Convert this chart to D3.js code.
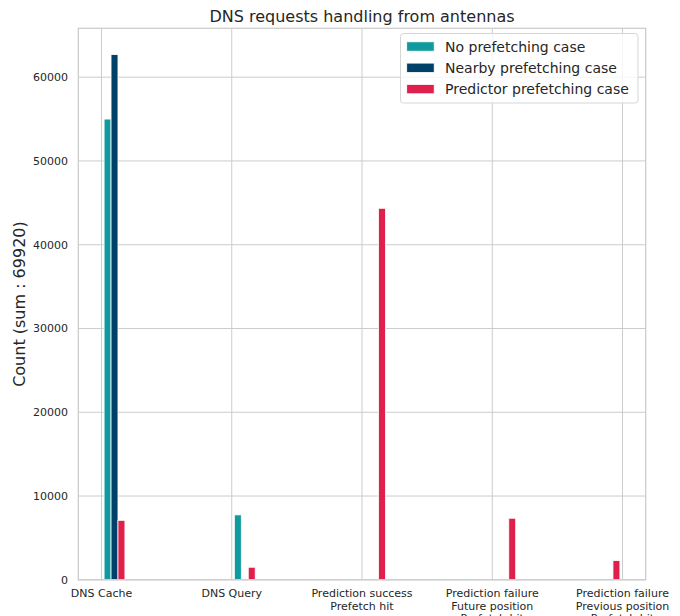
<!DOCTYPE html>
<html>
<head>
<meta charset="utf-8">
<script src="https://cdn.jsdelivr.net/npm/d3@7"></script>
<style>
  html, body { margin: 0; padding: 0; background: #fff; }
  svg text { font-family: "DejaVu Sans", sans-serif; fill: #262626; }
</style>
</head>
<body>
<svg id="chart" width="680" height="616"></svg>
<script>
// ---- data ----
const categories = [
  "DNS Cache",
  "DNS Query",
  "Prediction success\nPrefetch hit",
  "Prediction failure\nFuture position\nPrefetch hit",
  "Prediction failure\nPrevious position\nPrefetch hit"
];
const seriesNames = ["No prefetching case", "Nearby prefetching case", "Predictor prefetching case"];
const noPrefetching = [55000, 7750, 0, 0, 0];
const nearbyPrefetching = [62700, 0, 0, 0, 0];
const predictorPrefetching = [7100, 1500, 44350, 7350, 2300];
const yTicks = [0, 10000, 20000, 30000, 40000, 50000, 60000];
const title = "DNS requests handling from antennas";
const yLabel = "Count (sum : 69920)";

// ---- config ----
const colors = ["#0e9a9e", "#00416a", "#e0204c"];
const nBins = 20;
const margin = { left: 78.3, right: 680 - 645.7, top: 28.3, bottom: 616 - 579.8 };
const W = 680, H = 616;

const seriesValues = [noPrefetching, nearbyPrefetching, predictorPrefetching];
const svg = d3.select("#chart");

// histogram-like bar layout (matplotlib hist with 3 datasets)
const idxMin = 0, idxMax = categories.length - 1;
const span = idxMax - idxMin;
const binW = span / nBins;
const dr = 0.8;
const nx = seriesValues.length;
const barW = dr * binW / nx;
const boffset0 = -0.5 * dr * binW * (1 - 1 / nx) + 0.5 * binW;

const bars = [];
seriesValues.forEach((vals, k) => {
  vals.forEach((v, i) => {
    const b = Math.min(Math.floor((i - idxMin) * nBins / span), nBins - 1);
    const binStart = idxMin + b * binW;
    const center = binStart + boffset0 + k * barW;
    bars.push({ k, i, v, center });
  });
});

const dataMin = idxMin + boffset0 - barW / 2;
const dataMax = idxMax - binW + boffset0 + (nx - 1) * barW + barW / 2;
const pad = 0.05 * (dataMax - dataMin);

const x = d3.scaleLinear()
  .domain([dataMin - pad, dataMax + pad])
  .range([margin.left, W - margin.right]);

const yMax = d3.max(seriesValues.flat()) * 1.05;
const y = d3.scaleLinear()
  .domain([0, yMax])
  .range([H - margin.bottom, margin.top]);

// grid
const grid = svg.append("g");
grid.selectAll(".gy").data(yTicks).join("line")
  .attr("x1", margin.left).attr("x2", W - margin.right)
  .attr("y1", d => y(d)).attr("y2", d => y(d))
  .attr("stroke", "#cccccc").attr("stroke-width", 1);
grid.selectAll(".gx").data(categories.map((c, i) => i)).join("line")
  .attr("x1", d => x(d)).attr("x2", d => x(d))
  .attr("y1", margin.top).attr("y2", H - margin.bottom)
  .attr("stroke", "#cccccc").attr("stroke-width", 1);

// bars
svg.append("g").selectAll("rect").data(bars.filter(d => d.v > 0)).join("rect")
  .attr("x", d => x(d.center - barW / 2))
  .attr("width", d => x(d.center + barW / 2) - x(d.center - barW / 2))
  .attr("y", d => y(d.v))
  .attr("height", d => y(0) - y(d.v))
  .attr("fill", d => colors[d.k])
  .attr("stroke", "#ffffff")
  .attr("stroke-width", 0.8);

// spines
svg.append("rect")
  .attr("x", margin.left).attr("y", margin.top)
  .attr("width", W - margin.right - margin.left)
  .attr("height", H - margin.bottom - margin.top)
  .attr("fill", "none").attr("stroke", "#cccccc").attr("stroke-width", 1.25);

// y tick labels
svg.append("g").selectAll("text").data(yTicks).join("text")
  .attr("x", margin.left - 10.3)
  .attr("y", d => y(d))
  .attr("dy", "0.36em")
  .attr("text-anchor", "end")
  .attr("font-size", 11)
  .text(d => d);

// x tick labels (multi-line)
const xl = svg.append("g").selectAll("text").data(categories).join("text")
  .attr("text-anchor", "middle")
  .attr("font-size", 11)
  .attr("y", H - margin.bottom + 17.5);
xl.each(function (d, i) {
  const t = d3.select(this);
  d.split("\n").forEach((line, j) => {
    t.append("tspan").attr("x", x(i)).attr("dy", j === 0 ? 0 : 12.2).text(line);
  });
});

// title
svg.append("text")
  .attr("x", (margin.left + W - margin.right) / 2)
  .attr("y", 21.7)
  .attr("text-anchor", "middle")
  .attr("font-size", 16)
  .text(title);

// y label
svg.append("text")
  .attr("transform", `translate(25,${(margin.top + H - margin.bottom) / 2}) rotate(-90)`)
  .attr("text-anchor", "middle")
  .attr("font-size", 16)
  .text(yLabel);

// legend
const lg = svg.append("g");
lg.append("rect")
  .attr("x", 400.5).attr("y", 33.5).attr("width", 237.5).attr("height", 69.5)
  .attr("rx", 3).attr("ry", 3)
  .attr("fill", "#ffffff").attr("fill-opacity", 0.8)
  .attr("stroke", "#d6d6d6").attr("stroke-width", 1);
const rowY = [46.5, 67.8, 89.1];
seriesNames.forEach((name, k) => {
  lg.append("rect")
    .attr("x", 406.7).attr("y", rowY[k] - 4.7)
    .attr("width", 27.5).attr("height", 9.4)
    .attr("fill", colors[k]).attr("stroke", "#ffffff").attr("stroke-width", 0.8);
  lg.append("text")
    .attr("x", 445).attr("y", rowY[k])
    .attr("dy", "0.36em")
    .attr("font-size", 14)
    .text(name);
});
</script>
</body>
</html>
